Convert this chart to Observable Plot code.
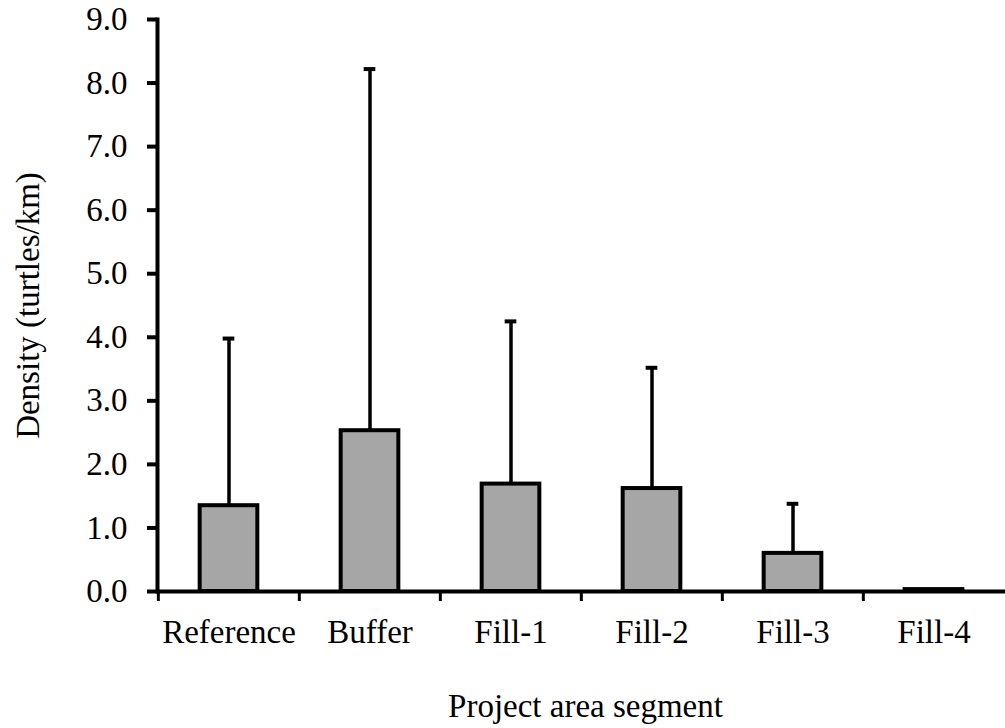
<!DOCTYPE html>
<html>
<head>
<meta charset="utf-8">
<script src="https://cdn.jsdelivr.net/npm/d3@7"></script>
<script src="https://cdn.jsdelivr.net/npm/@observablehq/plot@0.6"></script>
<style>
  html, body { margin: 0; padding: 0; background: #fff; }
  svg { display: block; }
</style>
</head>
<body>
<div id="chart"></div>
<script>
const segments = ["Reference", "Buffer", "Fill-1", "Fill-2", "Fill-3", "Fill-4"];
const meanDensity = [1.35, 2.53, 1.69, 1.62, 0.60, 0.03];
const upperError = [3.98, 8.22, 4.25, 3.52, 1.38, null];
const yTicks = [0, 1, 2, 3, 4, 5, 6, 7, 8, 9];
const yTitle = "Density (turtles/km)";
const xTitle = "Project area segment";

const data = segments.map((s, i) => ({segment: s, mean: meanDensity[i], upper: upperError[i]}));
const errs = data.filter(d => d.upper != null);

const W = 1005, H = 728, ML = 157, MR = 0, MT = 19, MB = 137;
const step = (W - ML - MR) / segments.length;
const font = "Liberation Serif, Times New Roman, serif";
const fs = 33;

const chart = Plot.plot({
  width: W,
  height: H,
  marginLeft: ML,
  marginRight: MR,
  marginTop: MT,
  marginBottom: MB,
  style: {fontFamily: font, fontSize: fs + "px", color: "#000", background: "#fff"},
  x: {domain: segments, padding: 0, axis: null, label: null},
  y: {domain: [0, 9], axis: null, label: null},
  marks: [
    // error bar stems and caps
    Plot.ruleX(errs, {x: "segment", y1: "mean", y2: "upper", stroke: "#000", strokeWidth: 3.5}),
    Plot.tickY(errs, {x: "segment", y: "upper", stroke: "#000", strokeWidth: 4, insetLeft: step / 2 - 6, insetRight: step / 2 - 6}),
    // bars
    Plot.barY(data, {x: "segment", y: "mean", fill: "#a6a6a6", stroke: "#000", strokeWidth: 4, insetLeft: step / 2 - 29, insetRight: step / 2 - 29}),
    // y axis
    Plot.axisY({ticks: yTicks, tickFormat: d => d.toFixed(1), tickSize: 10, tickPadding: 20, strokeWidth: 4, fontSize: fs, fill: "#000", label: null}),
    Plot.frame({anchor: "left", stroke: "#000", strokeWidth: 4}),
    // x axis line
    Plot.ruleY([0], {stroke: "#000", strokeWidth: 4}),
    // x boundary ticks
    Plot.axisX({tickSize: 10, tickFormat: () => "", strokeWidth: 3, dx: -step / 2, label: null}),
    // x tick labels
    Plot.axisX({tickSize: 0, tickPadding: 28, fontSize: fs, fill: "#000", label: null}),
    // titles
    Plot.text([yTitle], {frameAnchor: "left", textAnchor: "middle", rotate: -90, dx: -129, dy: 0, fontSize: fs, fill: "#000"}),
    Plot.text([xTitle], {frameAnchor: "bottom", textAnchor: "middle", dx: 4, dy: 125, fontSize: fs, fill: "#000"})
  ]
});
document.getElementById("chart").appendChild(chart);
</script>
</body>
</html>
